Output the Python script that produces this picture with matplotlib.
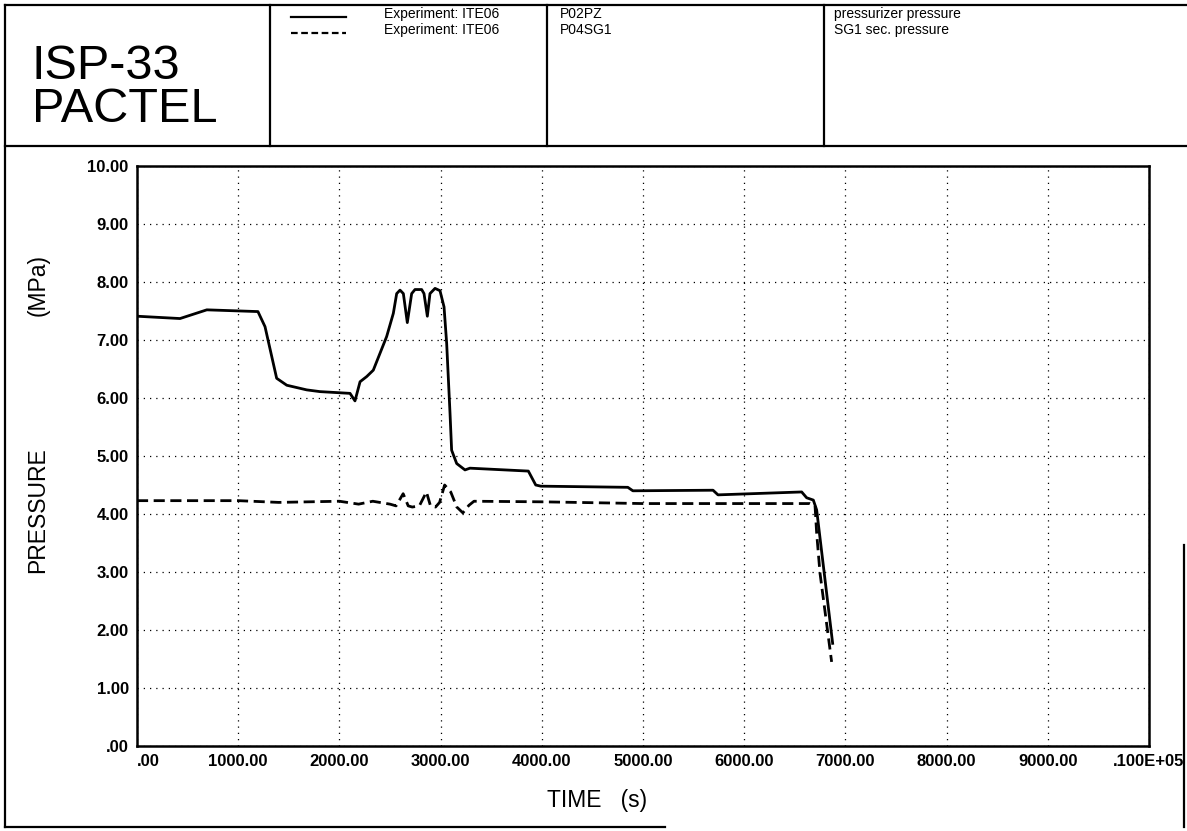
import matplotlib
matplotlib.use("Agg")
import matplotlib.pyplot as plt
from matplotlib.lines import Line2D

plt.rcParams['font.family'] = ['Liberation Sans', 'DejaVu Sans']

# ---- data -------------------------------------------------------------
# pressurizer pressure (P02PZ)
t_pz = [0, 425, 690, 1195, 1265, 1380, 1480, 1677, 1808, 2105, 2154, 2204,
        2270, 2335, 2401, 2467, 2533, 2566, 2599, 2632, 2671, 2714, 2747,
        2813, 2836, 2869, 2895, 2945, 2994, 3034, 3060, 3093, 3109, 3159,
        3241, 3290, 3867, 3940, 3990, 4850, 4900, 5692, 5741, 6568, 6617,
        6683, 6716, 6874]
p_pz = [7.41, 7.37, 7.52, 7.49, 7.23, 6.34, 6.22, 6.14, 6.11, 6.08, 5.95, 6.28,
        6.37, 6.48, 6.77, 7.06, 7.46, 7.80, 7.86, 7.80, 7.30, 7.80, 7.87,
        7.87, 7.80, 7.41, 7.80, 7.89, 7.85, 7.57, 6.94, 5.74, 5.10, 4.87,
        4.76, 4.79, 4.74, 4.50, 4.48, 4.46, 4.40, 4.41, 4.33, 4.38, 4.28,
        4.24, 4.07, 1.77]

# SG1 secondary pressure (P04SG1)
t_sg = [0, 1000, 1400, 2000, 2190, 2330, 2500, 2560, 2630, 2680, 2720, 2790,
        2860, 2900, 2950, 2990, 3040, 3100, 3160, 3220, 3280, 3330, 4000,
        5000, 6650, 6700, 6716, 6749, 6864]
p_sg = [4.23, 4.23, 4.20, 4.22, 4.17, 4.22, 4.17, 4.14, 4.35, 4.14, 4.12, 4.14,
        4.38, 4.14, 4.12, 4.20, 4.50, 4.38, 4.12, 4.02, 4.15, 4.22, 4.21,
        4.18, 4.18, 4.14, 3.67, 2.98, 1.45]

x_ticks = [0, 1000, 2000, 3000, 4000, 5000, 6000, 7000, 8000, 9000, 10000]
x_labels = ['.00', '1000.00', '2000.00', '3000.00', '4000.00', '5000.00',
            '6000.00', '7000.00', '8000.00', '9000.00', '.100E+05']
y_ticks = [0, 1, 2, 3, 4, 5, 6, 7, 8, 9, 10]
y_labels = ['.00', '1.00', '2.00', '3.00', '4.00', '5.00', '6.00', '7.00',
            '8.00', '9.00', '10.00']

series_codes = ['P02PZ', 'P04SG1']
series_desc = ['pressurizer pressure', 'SG1 sec. pressure']
run_name = 'Experiment: ITE06'

# ---- figure -----------------------------------------------------------
W, H = 1187, 831
fig = plt.figure(figsize=(W / 100, H / 100), dpi=100)


def fx(px):
    return px / W


def fy(py):
    return 1 - py / H


def hline(x0, x1, y, lw=1.6):
    fig.add_artist(Line2D([fx(x0), fx(x1)], [fy(y), fy(y)], color='black',
                          lw=lw, transform=fig.transFigure))


def vline(x, y0, y1, lw=1.6):
    fig.add_artist(Line2D([fx(x), fx(x)], [fy(y0), fy(y1)], color='black',
                          lw=lw, transform=fig.transFigure))


# page frame and title block
hline(5, 1187, 5)
hline(5, 1187, 146)
hline(5, 665, 827)
vline(5, 5, 827)
vline(1184, 545, 827)
for xd in (270, 547, 824):
    vline(xd, 5, 146)

fig.text(fx(32), fy(88), 'ISP-33\nPACTEL', fontsize=35, va='center',
         ha='left', linespacing=0.93)

# legend block
fig.add_artist(Line2D([fx(291), fx(346)], [fy(17), fy(17)], color='black',
                      lw=1.6, transform=fig.transFigure))
fig.add_artist(Line2D([fx(291), fx(346)], [fy(33), fy(33)], color='black',
                      lw=1.6, ls=(0, (3, 1.6)), transform=fig.transFigure))
for i, yy in enumerate((14, 30)):
    fig.text(fx(384), fy(yy), run_name, fontsize=10, va='center', ha='left')
    fig.text(fx(560), fy(yy), series_codes[i], fontsize=10, va='center',
             ha='left')
    fig.text(fx(834), fy(yy), series_desc[i], fontsize=10, va='center',
             ha='left')

# ---- plot area --------------------------------------------------------
ax_l, ax_r, ax_t, ax_b = 137, 1149, 166, 746
ax = fig.add_axes([fx(ax_l), fy(ax_b), (ax_r - ax_l) / W, (ax_b - ax_t) / H])

ax.plot(t_pz, p_pz, color='black', lw=2.0, solid_joinstyle='round')
ax.plot(t_sg, p_sg, color='black', lw=2.0, ls=(0, (4, 2)))

ax.set_xlim(0, 10000)
ax.set_ylim(0, 10)
ax.set_xticks(x_ticks)
ax.set_xticklabels(x_labels, fontsize=12, fontweight='bold')
ax.get_xticklabels()[0].set_horizontalalignment('left')
ax.set_yticks(y_ticks)
ax.set_yticklabels(y_labels, fontsize=12, fontweight='bold')
ax.tick_params(length=0, pad=6)
ax.grid(True, color='black', lw=0.9, ls=(0, (1, 4)))
for sp in ax.spines.values():
    sp.set_linewidth(1.8)

fig.text(fx(597), fy(800), 'TIME   (s)', fontsize=16.5, ha='center',
         va='center')
fig.text(fx(38), fy(510), 'PRESSURE', fontsize=16.5, rotation=90,
         ha='center', va='center')
fig.text(fx(38), fy(285), '(MPa)', fontsize=16.5, rotation=90,
         ha='center', va='center')

fig.savefig('out.png', dpi=100)
